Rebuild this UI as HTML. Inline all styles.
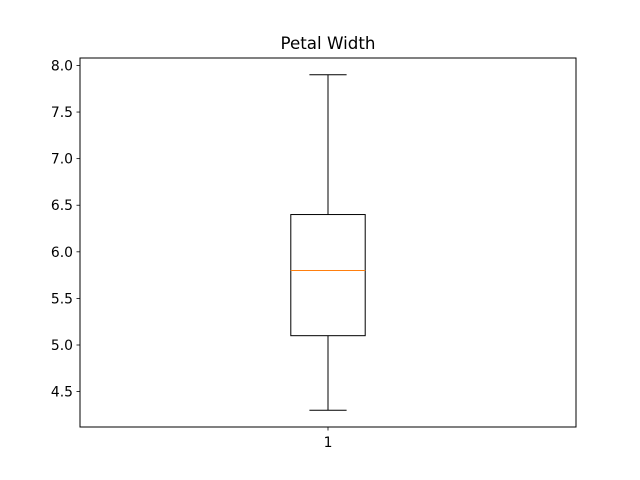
<!DOCTYPE html>
<html><head><meta charset="utf-8"><style>body{margin:0;background:#fff}svg{display:block}text{font-family:"DejaVu Sans","Liberation Sans",sans-serif;fill:#000}</style></head>
<body>
<svg id="chart" width="640" height="480" viewBox="0 0 640 480">
<text x="328" y="49" font-size="16.7" text-anchor="middle">Petal Width</text>
<g id="plot"></g>
<rect x="80" y="58" width="496" height="369" fill="none" stroke="#000" stroke-width="1"/>
</svg>
<script>
const categories = ["1"];
const whiskerLow = [4.3];
const q1 = [5.1];
const median = [5.8];
const q3 = [6.4];
const whiskerHigh = [7.9];
const yTicks = [4.5, 5.0, 5.5, 6.0, 6.5, 7.0, 7.5, 8.0];

const L=80,R=576,T=58,B=427;
const yMin=4.12,yMax=8.08;
const y=v=>B-(v-yMin)/(yMax-yMin)*(B-T);
const x=v=>L+(v-0.5)/(categories.length)*(R-L);
const g=document.getElementById('plot');
const NS='http://www.w3.org/2000/svg';
function mk(t,a){const e=document.createElementNS(NS,t);for(const k in a)e.setAttribute(k,a[k]);g.appendChild(e);return e;}
yTicks.forEach(v=>{
  const l=mk('line',{x1:L-3.5,x2:L,y1:y(v),y2:y(v),stroke:'#000','stroke-width':0.8});
  
  
  const t=mk('text',{x:L-7,y:y(v)+5,'font-size':13.9,'text-anchor':'end'});
  t.textContent=v.toFixed(1);
  
  
});
categories.forEach((c,i)=>{
  const cx=x(i+1);
  const hw=(0.075)*(R-L)/categories.length;
  const tk=mk('line',{x1:cx,x2:cx,y1:B,y2:B+3.5,stroke:'#000','stroke-width':0.8});
  
  
  const tl=mk('text',{x:cx,y:B+20,'font-size':13.9,'text-anchor':'middle'});
  tl.textContent=c;
  
  
  const w1=mk('line',{x1:cx,x2:cx,y1:y(whiskerLow[i]),y2:y(q1[i]),stroke:'#000'});
  
  
  const w2=mk('line',{x1:cx,x2:cx,y1:y(q3[i]),y2:y(whiskerHigh[i]),stroke:'#000'});
  
  
  const c1=mk('line',{x1:cx-hw/2,x2:cx+hw/2,y1:y(whiskerLow[i]),y2:y(whiskerLow[i]),stroke:'#000'});
  
  
  const c2=mk('line',{x1:cx-hw/2,x2:cx+hw/2,y1:y(whiskerHigh[i]),y2:y(whiskerHigh[i]),stroke:'#000'});
  
  
  const bx=mk('rect',{x:cx-hw,y:y(q3[i]),width:2*hw,height:y(q1[i])-y(q3[i]),fill:'none',stroke:'#000'});
  
  
  const md=mk('line',{x1:cx-hw,x2:cx+hw,y1:y(median[i]),y2:y(median[i]),stroke:'#ff7f0e'});
  
  
});
</script>
</body></html>
